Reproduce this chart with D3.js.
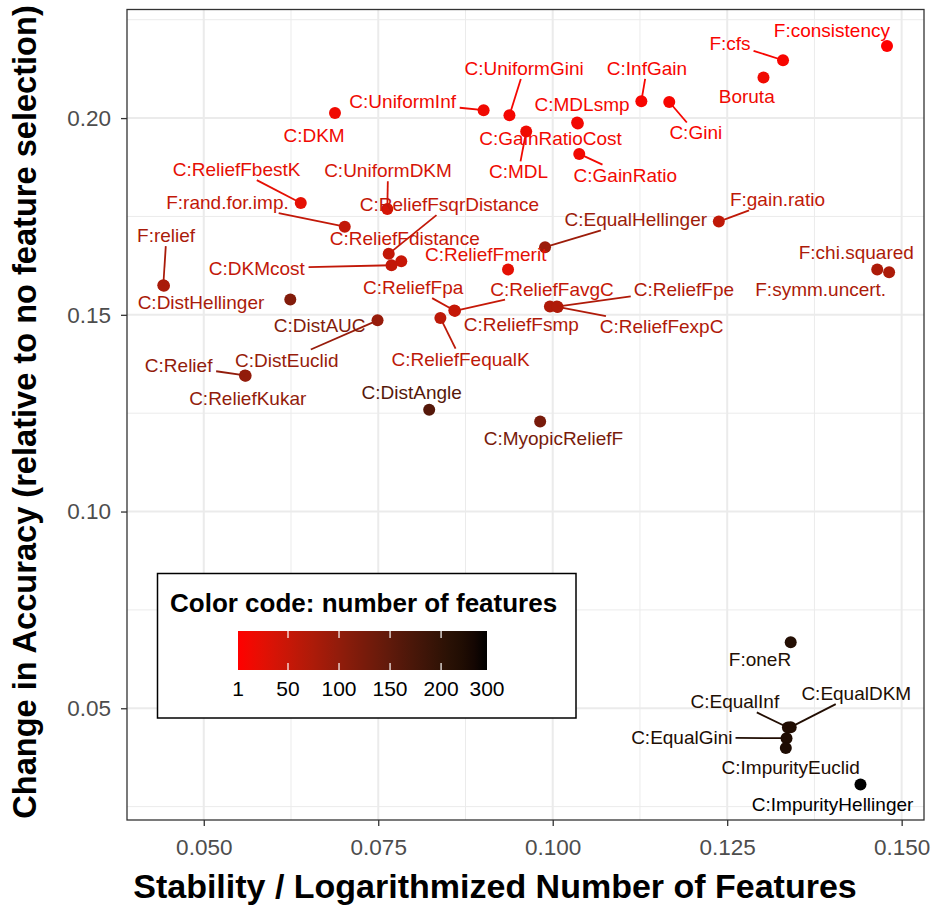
<!DOCTYPE html>
<html>
<head>
<meta charset="utf-8">
<script src="https://cdn.jsdelivr.net/npm/d3@7"></script>
<style>
  body { margin: 0; background: #fff; }
  text { font-family: "Liberation Sans", Arial, sans-serif; }
</style>
</head>
<body>
<div id="container"></div>
<script>
// filter/selection methods
const names = [
  "F:consistency", "F:cfs", "Boruta", "C:InfGain", "C:Gini", "C:MDLsmp", "C:GainRatioCost",
  "C:GainRatio", "C:MDL", "C:UniformGini", "C:UniformInf", "C:DKM", "C:ReliefFbestK",
  "F:rand.for.imp.", "C:UniformDKM", "C:ReliefFsqrDistance", "C:ReliefFdistance", "C:DKMcost",
  "C:ReliefFmerit", "C:EqualHellinger", "F:gain.ratio", "F:chi.squared", "F:symm.uncert.",
  "F:relief", "C:DistHellinger", "C:DistAUC", "C:DistEuclid", "C:ReliefFpa", "C:ReliefFavgC",
  "C:ReliefFequalK", "C:ReliefFsmp", "C:ReliefFpe", "C:ReliefFexpC", "C:Relief", "C:ReliefKukar",
  "C:DistAngle", "C:MyopicReliefF", "F:oneR", "C:EqualInf", "C:EqualDKM", "C:EqualGini",
  "C:ImpurityEuclid", "C:ImpurityHellinger"
]
const stability = [
  0.1479, 0.1330, 0.1302, 0.1127, 0.1167, 0.1035, 0.1036,
  0.1038, 0.0962, 0.0938, 0.0901, 0.0688, 0.0639,
  0.0702, 0.0763, 0.0765, 0.0783, 0.0769,
  0.0936, 0.0989, 0.1238, 0.1465, 0.1482,
  0.0442, 0.0443, 0.0624, 0.0749, 0.0859, 0.0860,
  0.0839, 0.0996, 0.1006, 0.1007, 0.0559, 0.0560,
  0.0823, 0.0982, 0.1341, 0.1337, 0.1341, 0.1335,
  0.1334, 0.1441
]
const accuracy = [
  0.2183, 0.2147, 0.2103, 0.2043, 0.2041, 0.1989, 0.1986,
  0.1909, 0.1966, 0.2007, 0.2020, 0.2013, 0.1784,
  0.1724, 0.1769, 0.1655, 0.1636, 0.1626,
  0.1615, 0.1672, 0.1737, 0.1615, 0.1608,
  0.1575, 0.1574, 0.1539, 0.1486, 0.1511, 0.1510,
  0.1492, 0.1521, 0.1521, 0.1520, 0.1346, 0.1345,
  0.1259, 0.1229, 0.0668, 0.0451, 0.0452, 0.0424,
  0.0399, 0.0306
]
const nFeatures = [
  2, 8, 14, 8, 8, 10, 12,
  12, 14, 10, 14, 14, 24,
  55, 38, 55, 50, 55,
  25, 90, 58, 75, 75,
  78, 78, 115, 95, 52, 52,
  60, 72, 72, 72, 100, 100,
  160, 125, 215, 218, 218, 220,
  222, 245
]
// where the repelled labels ended up (data units) and whether they got a leader line
const labelX = [
  0.1400, 0.1254, 0.1278, 0.1135, 0.1205, 0.1042, 0.0997,
  0.1104, 0.0951, 0.0959, 0.0785, 0.0658, 0.0547,
  0.0534, 0.0764, 0.0852, 0.0788, 0.0576,
  0.0904, 0.1119, 0.1322, 0.1435, 0.1384,
  0.0446, 0.0496, 0.0666, 0.0619, 0.0800, 0.0999,
  0.0868, 0.0955, 0.1188, 0.1156, 0.0464, 0.0563,
  0.0798, 0.1001, 0.1297, 0.1261, 0.1435, 0.1185,
  0.1341, 0.1401
]
const labelY = [
  0.2223, 0.2191, 0.2055, 0.2127, 0.1963, 0.2035, 0.1948,
  0.1856, 0.1864, 0.2127, 0.2042, 0.1956, 0.1870,
  0.1786, 0.1867, 0.1781, 0.1696, 0.1619,
  0.1655, 0.1742, 0.1793, 0.1659, 0.1564,
  0.1702, 0.1531, 0.1473, 0.1386, 0.1570, 0.1566,
  0.1388, 0.1475, 0.1566, 0.1471, 0.1371, 0.1287,
  0.1303, 0.1186, 0.0625, 0.0517, 0.0538, 0.0426,
  0.0350, 0.0257
]
const hasLeader = [
  false, true, false, true, true, false, false,
  true, true, true, true, false, true,
  true, true, true, false, true,
  false, true, true, false, false,
  true, false, false, true, true, true,
  true, false, true, true, true, false,
  false, false, false, true, true, true,
  false, false
]

const xTicks = [0.05, 0.075, 0.1, 0.125, 0.15]
const xMinor = [0.0625, 0.0875, 0.1125, 0.1375]
const yTicks = [0.05, 0.10, 0.15, 0.20]
const yMinor = [0.025, 0.075, 0.125, 0.175, 0.225]
const legendTicks = [1, 50, 100, 150, 200, 300]

let screenWidth = 933
let screenHeight = 906
let panel = {left: 127, right: 924, top: 9.5, bottom: 820}
let svg

function main() {
  createSVG()
  let data = names.map((n, i) => ({
    name: n, x: stability[i], y: accuracy[i], n: nFeatures[i],
    lx: labelX[i], ly: labelY[i], leader: hasLeader[i]
  }))
  build(data)
}

function createSVG() {
  svg = d3.select('#container').append('svg')
    .attr('width', screenWidth)
    .attr('height', screenHeight)
}

function build(data) {
  const xScale = d3.scaleLinear()
    .domain([0.039, 0.1532])
    .range([panel.left, panel.right])
  const yScale = d3.scaleLinear()
    .domain([0.0216, 0.2276])
    .range([panel.bottom, panel.top])
  const color = d3.scaleLinear()
    .domain([1, 245])
    .range(['red', 'black'])
    .interpolate(d3.interpolateLab)
    .clamp(true)

  // grid
  let grid = svg.append('g')
  grid.selectAll('.xminor').data(xMinor).enter().append('line')
    .attr('x1', d => xScale(d)).attr('x2', d => xScale(d))
    .attr('y1', panel.top).attr('y2', panel.bottom)
    .attr('stroke', '#ebebeb').attr('stroke-width', 1)
  grid.selectAll('.yminor').data(yMinor).enter().append('line')
    .attr('y1', d => yScale(d)).attr('y2', d => yScale(d))
    .attr('x1', panel.left).attr('x2', panel.right)
    .attr('stroke', '#ebebeb').attr('stroke-width', 1)
  grid.selectAll('.xmajor').data(xTicks).enter().append('line')
    .attr('x1', d => xScale(d)).attr('x2', d => xScale(d))
    .attr('y1', panel.top).attr('y2', panel.bottom)
    .attr('stroke', '#ebebeb').attr('stroke-width', 2)
  grid.selectAll('.ymajor').data(yTicks).enter().append('line')
    .attr('y1', d => yScale(d)).attr('y2', d => yScale(d))
    .attr('x1', panel.left).attr('x2', panel.right)
    .attr('stroke', '#ebebeb').attr('stroke-width', 2)

  // axes
  const xAxis = d3.axisBottom(xScale)
    .tickValues(xTicks).tickFormat(d3.format('.3f'))
    .tickSize(6).tickPadding(13)
  const yAxis = d3.axisLeft(yScale)
    .tickValues(yTicks).tickFormat(d3.format('.2f'))
    .tickSize(6).tickPadding(10)

  let gx = svg.append('g')
    .attr('transform', `translate(0,${panel.bottom})`)
    .call(xAxis)
  let gy = svg.append('g')
    .attr('transform', `translate(${panel.left},0)`)
    .call(yAxis)
  for (let g of [gx, gy]) {
    g.select('.domain').remove()
    g.selectAll('line').attr('stroke', '#333').attr('stroke-width', 1.3)
    g.selectAll('text')
      .style('font-family', '"Liberation Sans", Arial, sans-serif')
      .style('font-size', '22.5px').attr('fill', '#4d4d4d')
  }

  svg.append('text')
    .attr('x', 495).attr('y', 898)
    .attr('text-anchor', 'middle')
    .style('font-size', '34px').style('font-weight', 'bold')
    .text('Stability / Logarithmized Number of Features')

  svg.append('text')
    .attr('transform', `translate(36,412) rotate(-90)`)
    .attr('text-anchor', 'middle')
    .style('font-size', '32.6px').style('font-weight', 'bold')
    .text('Change in Accuracy (relative to no feature selection)')

  // points
  svg.selectAll('circle')
    .data(data)
    .enter()
    .append('circle')
    .attr('cx', d => xScale(d.x))
    .attr('cy', d => yScale(d.y))
    .attr('r', 6)
    .style('fill', d => color(d.n))

  // labels + leader segments
  let segs = svg.append('g')
  let labels = svg.append('g').selectAll('text')
    .data(data)
    .enter()
    .append('text')
    .attr('x', d => xScale(d.lx))
    .attr('y', d => yScale(d.ly) + 0.36 * 19)
    .attr('text-anchor', 'middle')
    .style('font-size', '19px')
    .style('fill', d => color(d.n))
    .text(d => d.name)

  labels.each(function(d) {
    if (!d.leader) return
    let b = this.getBBox()
    let pad = 3
    let x0 = b.x - pad, x1 = b.x + b.width + pad
    let y0 = b.y + 3 - pad, y1 = b.y + b.height - 3 + pad
    let px = xScale(d.x), py = yScale(d.y)
    let cx = (x0 + x1) / 2, cy = (y0 + y1) / 2
    let dx = cx - px, dy = cy - py
    // segment runs from the point toward the label centre and stops at its box
    let tx = dx !== 0 ? ((dx > 0 ? x0 : x1) - px) / dx : -Infinity
    let ty = dy !== 0 ? ((dy > 0 ? y0 : y1) - py) / dy : -Infinity
    let t = Math.max(tx, ty, 0)
    segs.append('line')
      .attr('x1', px).attr('y1', py)
      .attr('x2', px + dx * t).attr('y2', py + dy * t)
      .attr('stroke', color(d.n))
      .attr('stroke-width', 1.8)
  })

  // panel border
  svg.append('rect')
    .attr('x', panel.left).attr('y', panel.top)
    .attr('width', panel.right - panel.left).attr('height', panel.bottom - panel.top)
    .attr('fill', 'none').attr('stroke', '#333').attr('stroke-width', 1.3)

  // legend
  let lg = svg.append('g')
  lg.append('rect')
    .attr('x', 157.5).attr('y', 573.5).attr('width', 418.5).attr('height', 144.5)
    .attr('fill', '#fff').attr('stroke', '#000').attr('stroke-width', 1.5)
  lg.append('text')
    .attr('x', 170).attr('y', 612)
    .style('font-size', '26px').style('font-weight', 'bold')
    .text('Color code: number of features')

  const barScale = d3.scaleLinear().domain([1, 245]).range([238, 487]).clamp(true)
  let grad = svg.append('defs').append('linearGradient').attr('id', 'cbar')
  grad.selectAll('stop')
    .data(d3.range(0, 1.0001, 0.05))
    .enter().append('stop')
    .attr('offset', d => d)
    .attr('stop-color', d => color(1 + d * 244))
  lg.append('rect')
    .attr('x', 238).attr('y', 631).attr('width', 249).attr('height', 39)
    .attr('fill', 'url(#cbar)')
  let inner = legendTicks.filter(v => v > 1 && v < 245)
  lg.selectAll('.tt').data(inner).enter().append('line')
    .attr('x1', d => barScale(d)).attr('x2', d => barScale(d))
    .attr('y1', 631).attr('y2', 638)
    .attr('stroke', '#fff').attr('stroke-width', 1.2)
  lg.selectAll('.tb').data(inner).enter().append('line')
    .attr('x1', d => barScale(d)).attr('x2', d => barScale(d))
    .attr('y1', 663).attr('y2', 670)
    .attr('stroke', '#fff').attr('stroke-width', 1.2)
  lg.selectAll('.tl').data(legendTicks).enter().append('text')
    .attr('x', d => barScale(d)).attr('y', 696)
    .attr('text-anchor', 'middle')
    .style('font-size', '21px')
    .text(d => d)
}

main()
</script>
</body>
</html>
